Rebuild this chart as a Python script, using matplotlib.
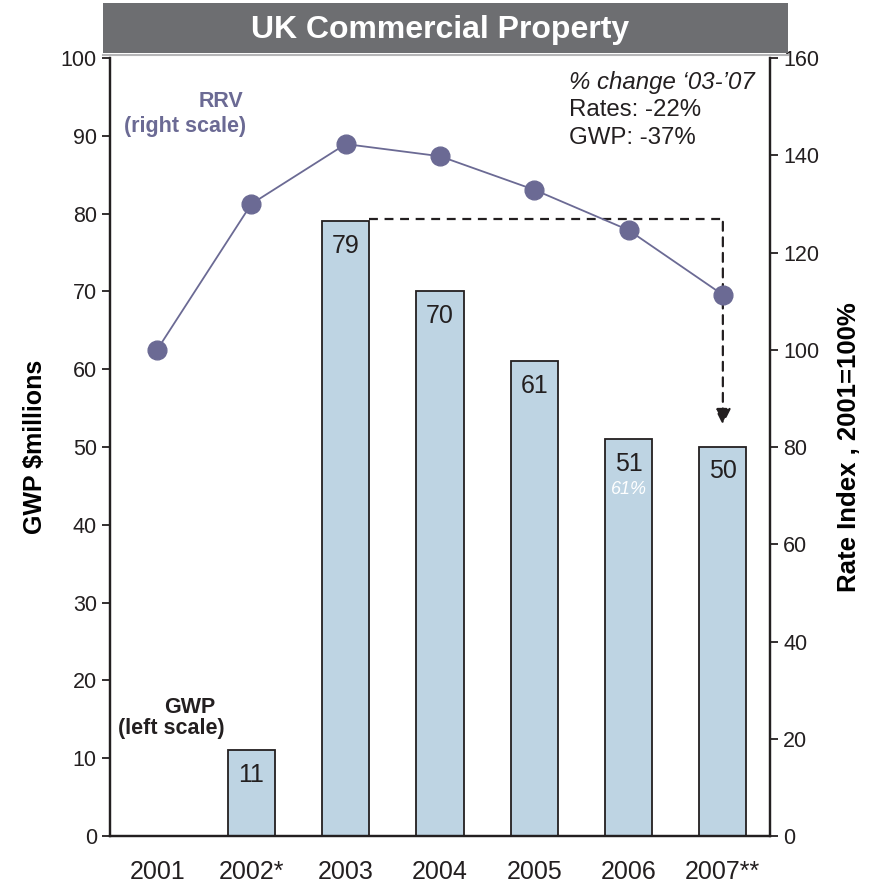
import matplotlib
matplotlib.use("Agg")
import matplotlib.pyplot as plt
from matplotlib.patches import Rectangle

plt.rcParams['font.family'] = ['Liberation Sans', 'DejaVu Sans']

years = ["2001", "2002*", "2003", "2004", "2005", "2006", "2007**"]
gwp = [0, 11, 79, 70, 61, 51, 50]
gwp_labels = ["", "11", "79", "70", "61", "51", "50"]
rrv = [100, 130, 142.3, 139.8, 132.9, 124.6, 111.3]

bar_color = "#bed4e3"
line_color = "#6b6a94"
ink = "#231f20"

fig = plt.figure(figsize=(8.73, 8.88), dpi=100)
W, H = 873, 888
ax = fig.add_axes([110 / W, 1 - 836 / H, 660 / W, 778 / H])
ax2 = ax.twinx()

x = list(range(len(years)))
ax.bar(x, gwp, width=0.5, color=bar_color, edgecolor=ink, linewidth=1.3, zorder=2)
for xi, v, lab in zip(x, gwp, gwp_labels):
    if lab:
        ax.text(xi, v - 1.6, lab, ha="center", va="top", fontsize=18, color=ink, zorder=3)
ax.text(5, 44.6, "61%", ha="center", va="center", fontsize=13, color="white",
        style="italic", zorder=3)

ax.set_xlim(-0.5, 6.5)
ax.set_ylim(0, 100)
ax.set_yticks(range(0, 101, 10))
ax.set_xticks(x)
ax.set_xticklabels(years)
ax.tick_params(axis="x", length=0, pad=17, labelsize=18, colors=ink)
ax.tick_params(axis="y", direction="out", length=6, width=1.3, labelsize=15.5, colors=ink)
ax.set_ylabel("GWP $millions", fontsize=18, fontweight="bold", labelpad=10)

ax2.plot(x, rrv, color=line_color, linewidth=1.3, marker="o", markersize=13.5, zorder=4)
ax2.set_ylim(0, 160)
ax2.set_yticks(range(0, 161, 20))
ax2.tick_params(axis="y", direction="out", length=6, width=1.3, labelsize=15.5, colors=ink)
ax2.set_ylabel("Rate Index , 2001=100%", fontsize=18.5, fontweight="bold", labelpad=13)

for a in (ax, ax2):
    a.spines["top"].set_visible(False)
    for s in ("left", "right", "bottom"):
        a.spines[s].set_linewidth(1.6)
        a.spines[s].set_color(ink)

# dashed decline marker from the 2003 peak down to 2007
ax.plot([2.25, 6.0], [79.3, 79.3], color=ink, linestyle=(0, (4, 3)), linewidth=1.6, zorder=3)
ax.annotate("", xy=(6.0, 52.5), xytext=(6.0, 79.3),
            arrowprops=dict(arrowstyle="-|>", linestyle=(0, (4, 3)), color=ink,
                            linewidth=1.6, mutation_scale=24), zorder=3)

ax.text(0.68, 94.4, "RRV", ha="center", va="center", fontsize=15.5, fontweight="bold", color=line_color)
ax.text(0.3, 91.2, "(right scale)", ha="center", va="center", fontsize=15.5, fontweight="bold", color=line_color)
ax.text(0.35, 16.5, "GWP", ha="center", va="center", fontsize=15.5, fontweight="bold", color=ink)
ax.text(0.15, 13.8, "(left scale)", ha="center", va="center", fontsize=15.5, fontweight="bold", color=ink)

ax.text(4.37, 96.9, "% change \u201803-\u201907", ha="left", va="center", fontsize=17.3, style="italic", color=ink)
ax.text(4.37, 93.3, "Rates: -22%", ha="left", va="center", fontsize=17.3, color=ink)
ax.text(4.37, 89.7, "GWP: -37%", ha="left", va="center", fontsize=17.3, color=ink)

# title banner
fig.patches.append(Rectangle((103 / W, 1 - 53 / H), 685 / W, 50 / H, transform=fig.transFigure,
                             facecolor="#6d6e71", edgecolor="none"))
fig.lines.append(plt.Line2D([103 / W, 788 / W], [1 - 55 / H, 1 - 55 / H], transform=fig.transFigure,
                            color="#b5b5b7", linewidth=1.5))
fig.text(440 / W, 1 - 30 / H, "UK Commercial Property", ha="center", va="center",
         fontsize=23, fontweight="bold", color="white")

fig.savefig("out.png", dpi=100)
